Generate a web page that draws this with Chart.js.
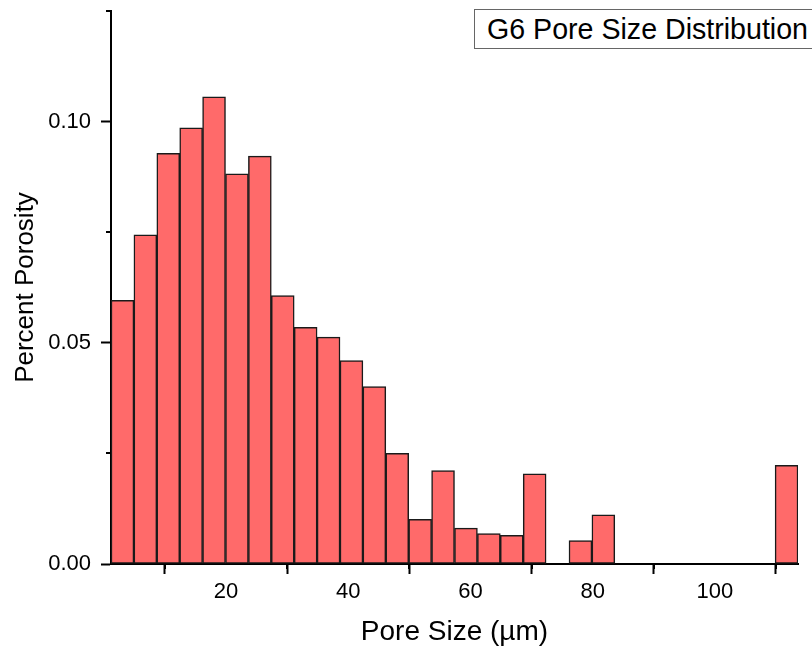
<!DOCTYPE html>
<html lang="en">
<head>
  <meta charset="UTF-8" />
  <title>G6 Pore Size Distribution</title>
  <script src="https://cdn.jsdelivr.net/npm/chart.js"></script>
  <style>
    html, body { margin: 0; padding: 0; background: #fff; overflow: hidden; }
    #wrap { position: relative; width: 812px; height: 655px; }
    #titleBox {
      position: absolute; left: 474px; top: 9px; width: 360px; height: 38px;
      border: 1px solid #666; background: #fff;
      font-family: "Liberation Sans", Arial, sans-serif; font-size: 28.6px;
      line-height: 39px; padding-left: 12px; color: #000; white-space: nowrap;
    }
  </style>
</head>
<body>
  <div id="wrap">
    <canvas id="hist" width="812" height="655"></canvas>
    <div id="titleBox">G6 Pore Size Distribution</div>
  </div>
  <script>
    // bin centres (µm), bin width ~3.747
    const binCenters = [3.064, 6.811, 10.558, 14.305, 18.052, 21.799, 25.546, 29.293, 33.040, 36.787,
                        40.534, 44.281, 48.028, 51.775, 55.522, 59.269, 63.016, 66.763, 70.510, 74.257,
                        78.004, 81.751, 85.498, 89.245, 92.992, 96.739, 100.486, 104.233, 107.980, 111.727];
    const porosity = [0.0596, 0.0744, 0.0928, 0.0986, 0.1056, 0.0882, 0.0922, 0.0607, 0.0535, 0.0513,
                      0.0460, 0.0401, 0.0250, 0.0101, 0.0211, 0.0081, 0.0069, 0.0065, 0.0204, 0,
                      0.0053, 0.0111, 0, 0, 0, 0, 0, 0, 0, 0.0223];
    const xMajorTicks = [20, 40, 60, 80, 100];
    const xMinorTicks = [10, 30, 50, 70, 90, 110];
    const yMajorTicks = [0, 0.05, 0.10];
    const yMinorTicks = [0.025, 0.075, 0.125];

    const font = 'Liberation Sans, Arial, sans-serif';

    // short minor ticks outside the axes
    const minorTicks = {
      id: 'minorTicks',
      afterDraw(chart) {
        const ctx = chart.ctx, x = chart.scales.x, y = chart.scales.y;
        ctx.save();
        ctx.strokeStyle = '#000';
        ctx.lineWidth = 2;
        ctx.beginPath();
        xMinorTicks.forEach(v => {
          const px = Math.round(x.getPixelForValue(v));
          ctx.moveTo(px, x.top);
          ctx.lineTo(px, x.top + 5);
        });
        yMinorTicks.forEach(v => {
          const py = Math.round(y.getPixelForValue(v));
          ctx.moveTo(y.right, py);
          ctx.lineTo(y.right - 5, py);
        });
        ctx.stroke();
        ctx.restore();
      }
    };

    new Chart(document.getElementById('hist'), {
      type: 'bar',
      data: {
        datasets: [{
          data: binCenters.map((c, i) => ({ x: c, y: porosity[i] })),
          backgroundColor: '#FF6A6A',
          borderColor: '#1a1a1a',
          borderWidth: 1.5,
          borderSkipped: false,
          barPercentage: 1,
          categoryPercentage: 1
        }]
      },
      options: {
        responsive: false,
        animation: false,
        layout: { padding: { top: 11, right: 14, left: 0, bottom: 0 } },
        plugins: { legend: { display: false }, tooltip: { enabled: false } },
        scales: {
          x: {
            type: 'linear',
            min: 1.19,
            max: 113.6,
            offset: false,
            afterBuildTicks: s => { s.ticks = xMajorTicks.map(v => ({ value: v })); },
            afterFit: s => { s.height = 91; s.paddingLeft = 0; s.paddingRight = 0; },
            border: { display: true, color: '#000', width: 2 },
            grid: { drawOnChartArea: false, tickLength: 10, tickWidth: 2, tickColor: '#000' },
            ticks: { color: '#000', padding: 5, maxRotation: 0, font: { family: font, size: 22 } },
            title: { display: true, text: 'Pore Size (µm)', color: '#000', padding: { top: 0, bottom: 6 },
                     font: { family: font, size: 28 } }
          },
          y: {
            min: 0,
            max: 0.125,
            afterBuildTicks: s => { s.ticks = yMajorTicks.map(v => ({ value: v })); },
            afterFit: s => { s.width = 111; s.paddingTop = 0; s.paddingBottom = 0; },
            border: { display: true, color: '#000', width: 2 },
            grid: { drawOnChartArea: false, tickLength: 10, tickWidth: 2, tickColor: '#000' },
            ticks: { color: '#000', padding: 10, font: { family: font, size: 22 },
                     callback: v => v.toFixed(2) },
            title: { display: true, text: 'Percent Porosity', color: '#000', padding: { top: 10, bottom: 0 },
                     font: { family: font, size: 26 } }
          }
        }
      },
      plugins: [minorTicks]
    });
  </script>
</body>
</html>
